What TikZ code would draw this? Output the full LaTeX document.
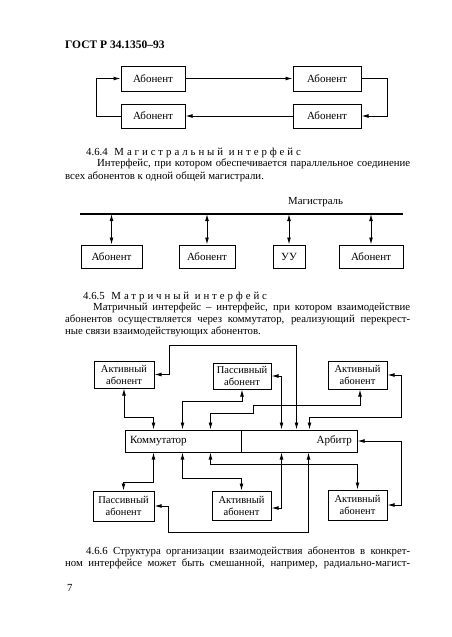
\documentclass[tikz,border=0pt]{standalone}
\usepackage{fontspec}
\setmainfont{Liberation Serif}
\usetikzlibrary{arrows.meta,calc}
\begin{document}
\begin{tikzpicture}[x=1pt,y=-1pt,
  box/.style={draw, line width=1pt, inner sep=0pt, font=\fontsize{11}{12}\selectfont, align=center},
  mbox/.style={box, font=\fontsize{10.5}{12}\selectfont},
  arr/.style={line width=0.9pt, -{Latex[length=7pt,width=3.8pt]}},
  dbl/.style={line width=0.9pt, {Latex[length=7pt,width=3.8pt]}-{Latex[length=7pt,width=3.8pt]}},
  txt/.style={anchor=base west, inner sep=0pt, font=\fontsize{10.8}{12}\selectfont}]
\useasboundingbox[fill=white] (0,0) rectangle (452,637);

% header
\node[txt, font=\fontsize{11.5}{12}\selectfont\bfseries] (hdr) at (65,48) {ГОСТ Р 34.1350–93};

% ring
\node[box, minimum width=64pt, minimum height=25pt] (r1) at (153,78.5) {Абонент};
\node[box, minimum width=68pt, minimum height=25pt] (r2) at (327,78.5) {Абонент};
\node[box, minimum width=64pt, minimum height=24pt] (r3) at (153,116) {Абонент};
\node[box, minimum width=68pt, minimum height=24pt] (r4) at (327,116) {Абонент};
\draw[arr] (r1.east) -- (r2.west);
\draw[arr] (r2.east) -- ++(26,0) |- (r4.east);
\draw[arr] (r4.west) -- (r3.east);
\draw[arr] (r3.west) -- ++(-24,0) |- (r1.west);

% 4.6.4
\node[txt] (h464) at (86,155) {4.6.4\hspace{4pt} \addfontfeature{LetterSpace=27}Магистральный интерфейс};
\node[txt] (p641) at (97,166) {\makebox[313pt][s]{Интерфейс, при котором обеспечивается параллельное соединение}};
\node[txt] (p642) at (65,179) {всех абонентов к одной общей магистрали.};

% bus
\node[txt] (lbl) at (288,204) {Магистраль};
\coordinate (busL) at (80,214);
\coordinate (busR) at (403,214);
\draw[line width=1.1pt] (busL) -- (busR);
\node[box, minimum width=61pt, minimum height=23pt] (b1) at (111.5,256.5) {\raisebox{-3pt}{Абонент}};
\node[box, minimum width=56pt, minimum height=23pt] (b2) at (207,256.5) {\raisebox{-3pt}{Абонент}};
\node[box, minimum width=32pt, minimum height=23pt] (b3) at (289,256.5) {\raisebox{-3pt}{УУ}};
\node[box, minimum width=64pt, minimum height=23pt] (b4) at (371,256.5) {\raisebox{-3pt}{Абонент}};
\foreach \b in {b1,b2,b3,b4} \draw[dbl] (\b.north) -- (\b.north |- busL);

% 4.6.5
\node[txt] (h465) at (83,299) {4.6.5\hspace{4pt} \addfontfeature{LetterSpace=27}Матричный интерфейс};
\node[txt] (p651) at (93,310) {\makebox[317pt][s]{Матричный интерфейс – интерфейс, при котором взаимодействие}};
\node[txt] (p652) at (65,322) {\makebox[345pt][s]{абонентов осуществляется через коммутатор, реализующий перекрест-}};
\node[txt] (p653) at (65,334) {ные связи взаимодействующих абонентов.};

% matrix
\node[mbox, minimum width=60pt, minimum height=27pt] (ma1) at (124,374.5) {Активный\\абонент};
\node[mbox, minimum width=58pt, minimum height=26pt] (mp1) at (242,376) {Пассивный\\абонент};
\node[mbox, minimum width=59pt, minimum height=28pt] (ma2) at (357.5,375) {Активный\\абонент};
\node[box, minimum width=116pt, minimum height=22pt, text width=106pt, align=left] (kom) at (183,441) {Коммутатор};
\node[box, minimum width=116pt, minimum height=22pt, text width=106pt, align=right] (arb) at (299,441) {Арбитр};
\node[mbox, minimum width=61pt, minimum height=30pt] (mp2) at (123.5,506) {Пассивный\\абонент};
\node[mbox, minimum width=59pt, minimum height=29pt] (ma3) at (241.5,505.5) {Активный\\абонент};
\node[mbox, minimum width=59pt, minimum height=30pt] (ma4) at (357.5,505) {Активный\\абонент};

% top connectors
\draw[dbl] (ma1.south) -- ++(0,29) -| ([xshift=29pt]kom.north west);
\draw[dbl] (mp1.south) -- ++(0,12) -| ([xshift=58pt]kom.north west);
\draw[dbl] ([xshift=2.5pt]ma2.south) -- ++(0,16) -| ++(-107,8) -| ([xshift=86pt]kom.north west);
\draw[dbl] (mp1.east) -| ([xshift=41pt]arb.north west);
\draw[dbl] (ma1.east) -- ++(15,0) -- ++(0,-29.5) -| ([xshift=56pt]arb.north west);
\draw[dbl] (ma2.east) -- ++(14,0) -- ++(0,42) -| ([xshift=69pt]arb.north west);
\draw[dbl] (arb.east) -- ++(44,0) |- (ma4.east);

% bottom connectors
\draw[dbl] ([xshift=29pt]kom.south west) -- ++(0,30) -| (mp2.north);
\draw[dbl] ([xshift=58pt]kom.south west) -- ++(0,26) -| (ma3.north);
\draw[dbl] ([xshift=86pt]kom.south west) -- ++(0,12) -| (ma4.north);
\draw[dbl] ([xshift=41pt]arb.south west) |- ([yshift=-2.5pt]ma3.east);
\draw[dbl] ([xshift=68pt]arb.south west) -- ++(0,80) -- ++(-140,0) |- (mp2.east);

% 4.6.6
\node[txt] (p661) at (86,554) {\makebox[324pt][s]{4.6.6 Структура организации взаимодействия абонентов в конкрет-}};
\node[txt] (p662) at (65,566) {\makebox[345pt][s]{ном интерфейсе может быть смешанной, например, радиально-магист-}};
\node[txt] (pnum) at (67,591) {7};
\end{tikzpicture}
\end{document}
